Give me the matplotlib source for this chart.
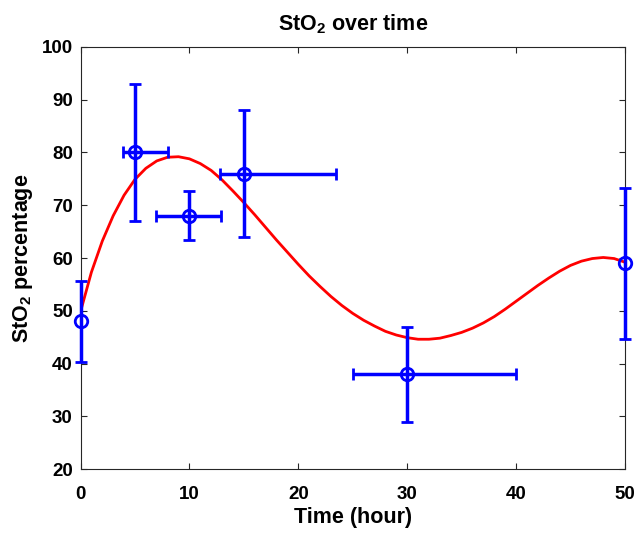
import matplotlib
matplotlib.use("Agg")
import matplotlib.pyplot as plt

plt.rcParams['font.family'] = ['Liberation Sans', 'DejaVu Sans']
plt.rcParams['font.weight'] = 'bold'
plt.rcParams['mathtext.default'] = 'regular'

# Measured data
time = [0, 5, 10, 15, 30, 50]
sto2 = [48, 80, 68, 76, 38, 59]
y_err_low = [7.7, 13, 4.6, 12, 9, 14.4]
y_err_high = [7.7, 13, 4.7, 12, 9, 14.2]
x_err_low = [0, 1.1, 3.1, 2.2, 5, 0]
x_err_high = [0, 3.0, 2.9, 8.5, 10, 0]

# Fitted curve (one value per hour)
curve_x = list(range(0, 51))
curve_y = [49.8, 57.3, 63.2, 68.0, 71.9, 74.9, 77.0, 78.4, 79.1, 79.2,
           78.8, 77.9, 76.6, 74.8, 72.7, 70.5, 68.2, 65.8, 63.4, 61.1,
           58.8, 56.6, 54.6, 52.7, 51.0, 49.5, 48.2, 47.1, 46.1, 45.4,
           44.9, 44.6, 44.6, 44.8, 45.3, 45.9, 46.7, 47.7, 48.9, 50.3,
           51.8, 53.3, 54.8, 56.2, 57.5, 58.6, 59.4, 59.9, 60.1, 59.9,
           59.2]

fig = plt.figure(figsize=(6.44, 5.34), dpi=100)
ax = fig.add_axes([0.125, 0.1217, 0.8455, 0.7903])

ax.plot(curve_x, curve_y, color='red', lw=2.0, zorder=2,
        solid_joinstyle='round')
ax.errorbar(time, sto2,
            yerr=[y_err_low, y_err_high],
            xerr=[x_err_low, x_err_high],
            fmt='o', color='blue', ecolor='blue', mfc='none', mec='blue',
            ms=9, mew=2, elinewidth=2.5, capsize=4, capthick=2.5, zorder=3,
            clip_on=False)

ax.set_xlim(0, 50)
ax.set_ylim(20, 100)
ax.set_xticks([0, 10, 20, 30, 40, 50])
ax.set_yticks([20, 30, 40, 50, 60, 70, 80, 90, 100])
ax.tick_params(direction='in', top=True, right=True, length=4, width=0.8,
               labelsize=13.5, colors='#262626', labelcolor='black')
ax.tick_params(axis='x', pad=12)
ax.tick_params(axis='y', pad=5.5)
for lab in ax.get_xticklabels() + ax.get_yticklabels():
    lab.set_fontweight('bold')
for sp in ax.spines.values():
    sp.set_color('#262626')
    sp.set_linewidth(0.8)

ax.set_xlabel('Time (hour)', fontsize=15.5, fontweight='bold', labelpad=3)
ax.set_ylabel('StO$_2$ percentage', fontsize=15.5, fontweight='bold', labelpad=5)
ax.set_title('StO$_2$ over time', fontsize=15.5, fontweight='bold', pad=12)

fig.savefig('out.png', dpi=100)
